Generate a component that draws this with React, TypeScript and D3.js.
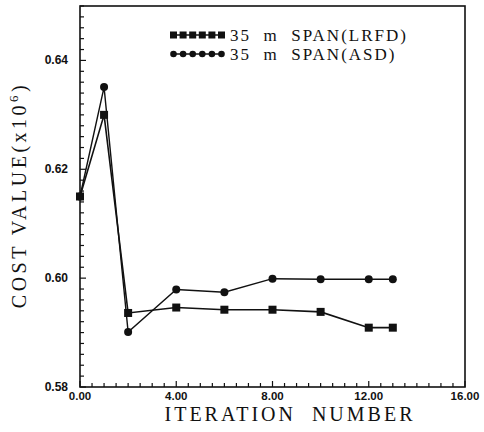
import { useEffect, useRef } from 'react'
import * as d3 from 'd3'

// iteration number
const iterations = [0, 1, 2, 4, 6, 8, 10, 12, 13]
// cost values (x10^6)
const lrfd = [0.615, 0.630, 0.5936, 0.5946, 0.5942, 0.5942, 0.5938, 0.5909, 0.5909]
const asd = [0.615, 0.6351, 0.5901, 0.5979, 0.5974, 0.5999, 0.5998, 0.5998, 0.5998]

const xTicks = [0, 4, 8, 12, 16]
const yTicks = [0.58, 0.60, 0.62, 0.64]
const legendLabels = ['35  m  SPAN(LRFD)', '35  m  SPAN(ASD)']

export default function App() {
  const svgRef = useRef<SVGSVGElement>(null)
  const width = 484
  const height = 432
  const margin = { top: 6, right: 19, bottom: 45, left: 80 }

  useEffect(() => {
    const svg = d3.select(svgRef.current)
    svg.selectAll('*').remove()

    const w = width - margin.left - margin.right
    const h = height - margin.top - margin.bottom
    const g = svg.append('g').attr('transform', `translate(${margin.left},${margin.top})`)

    const x = d3.scaleLinear().domain([0, 16]).range([0, w])
    const y = d3.scaleLinear().domain([0.58, 0.65]).range([h, 0])

    // frame
    g.append('rect')
      .attr('width', w)
      .attr('height', h)
      .attr('fill', 'none')
      .attr('stroke', '#111')
      .attr('stroke-width', 1.6)

    // minor ticks pointing inward
    const xMinor = d3.range(0, 16.01, 0.5)
    g.selectAll('.xm')
      .data(xMinor)
      .join('line')
      .attr('x1', (d) => x(d))
      .attr('x2', (d) => x(d))
      .attr('y1', h)
      .attr('y2', (d) => (d % 4 === 0 ? h - 6 : h - 4))
      .attr('stroke', '#111')
      .attr('stroke-width', 1.2)

    const yMinor = d3.range(0, 36).map((i) => 0.58 + i * 0.002)
    g.selectAll('.ym')
      .data(yMinor)
      .join('line')
      .attr('x1', 0)
      .attr('x2', (_, i) => (i % 10 === 0 ? 6 : 4))
      .attr('y1', (d) => y(d))
      .attr('y2', (d) => y(d))
      .attr('stroke', '#111')
      .attr('stroke-width', 1.2)

    const tickFont = 'Liberation Sans, Arial, sans-serif'
    g.selectAll('.xl')
      .data(xTicks)
      .join('text')
      .attr('x', (d) => x(d))
      .attr('y', h + 13)
      .attr('text-anchor', 'middle')
      .attr('font-family', tickFont)
      .attr('font-weight', 'bold')
      .attr('font-size', 11.5)
      .attr('fill', '#111')
      .text((d) => d.toFixed(2))

    g.selectAll('.yl')
      .data(yTicks)
      .join('text')
      .attr('x', -12)
      .attr('y', (d) => y(d) + 4)
      .attr('text-anchor', 'end')
      .attr('font-family', tickFont)
      .attr('font-weight', 'bold')
      .attr('font-size', 12)
      .attr('fill', '#111')
      .text((d) => d.toFixed(2))

    // axis titles
    const serif = 'Liberation Serif, Times New Roman, serif'
    g.append('text')
      .attr('x', 290 - margin.left)
      .attr('y', h + 34)
      .attr('text-anchor', 'middle')
      .attr('font-family', serif)
      .attr('font-size', 20)
      .attr('letter-spacing', 3)
      .attr('fill', '#111')
      .style('white-space', 'pre')
      .text('ITERATION  NUMBER')

    const yt = g.append('text')
      .attr('transform', `translate(${-54},${195 - margin.top}) rotate(-90)`)
      .attr('text-anchor', 'middle')
      .attr('font-family', serif)
      .attr('font-size', 20)
      .attr('letter-spacing', 3.5)
      .attr('fill', '#111')
      .style('white-space', 'pre')
    yt.append('tspan').text('COST VALUE(x10')
    yt.append('tspan').attr('font-size', 13).attr('dy', -8).text('6')
    yt.append('tspan').attr('dy', 8).text(')')

    const line = d3
      .line<number>()
      .x((_, i) => x(iterations[i]))
      .y((d) => y(d))

    g.append('path')
      .datum(asd)
      .attr('fill', 'none')
      .attr('stroke', '#111')
      .attr('stroke-width', 1.4)
      .attr('d', line)

    g.append('path')
      .datum(lrfd)
      .attr('fill', 'none')
      .attr('stroke', '#111')
      .attr('stroke-width', 1.6)
      .attr('d', line)

    g.selectAll('.sq')
      .data(lrfd)
      .join('rect')
      .attr('x', (_, i) => x(iterations[i]) - 4)
      .attr('y', (d) => y(d) - 4)
      .attr('width', 8)
      .attr('height', 8)
      .attr('fill', '#111')

    g.selectAll('.ci')
      .data(asd)
      .join('circle')
      .attr('cx', (_, i) => x(iterations[i]))
      .attr('cy', (d) => y(d))
      .attr('r', 4)
      .attr('fill', '#111')

    // legend
    const lg = svg.append('g')
    legendLabels.forEach((label, k) => {
      const ly = 35 + k * 19
      const xs = d3.range(6).map((i) => 173.5 + i * 9.6)
      lg.append('line')
        .attr('x1', xs[0])
        .attr('x2', xs[5])
        .attr('y1', ly)
        .attr('y2', ly)
        .attr('stroke', '#111')
        .attr('stroke-width', 1.4)
      xs.forEach((cx) => {
        if (k === 0) {
          lg.append('rect').attr('x', cx - 3.5).attr('y', ly - 3.5).attr('width', 7).attr('height', 7).attr('fill', '#111')
        } else {
          lg.append('circle').attr('cx', cx).attr('cy', ly).attr('r', 3.3).attr('fill', '#111')
        }
      })
      lg.append('text')
        .attr('x', 230)
        .attr('y', ly + 6)
        .attr('font-family', serif)
        .attr('font-size', 17)
        .attr('letter-spacing', 2)
        .attr('fill', '#111')
        .style('white-space', 'pre')
        .text(label)
    })
  }, [])

  return (
    <svg
      ref={svgRef}
      width={width}
      height={height}
      style={{ position: 'absolute', left: 0, top: 0, background: '#fff' }}
    />
  )
}
